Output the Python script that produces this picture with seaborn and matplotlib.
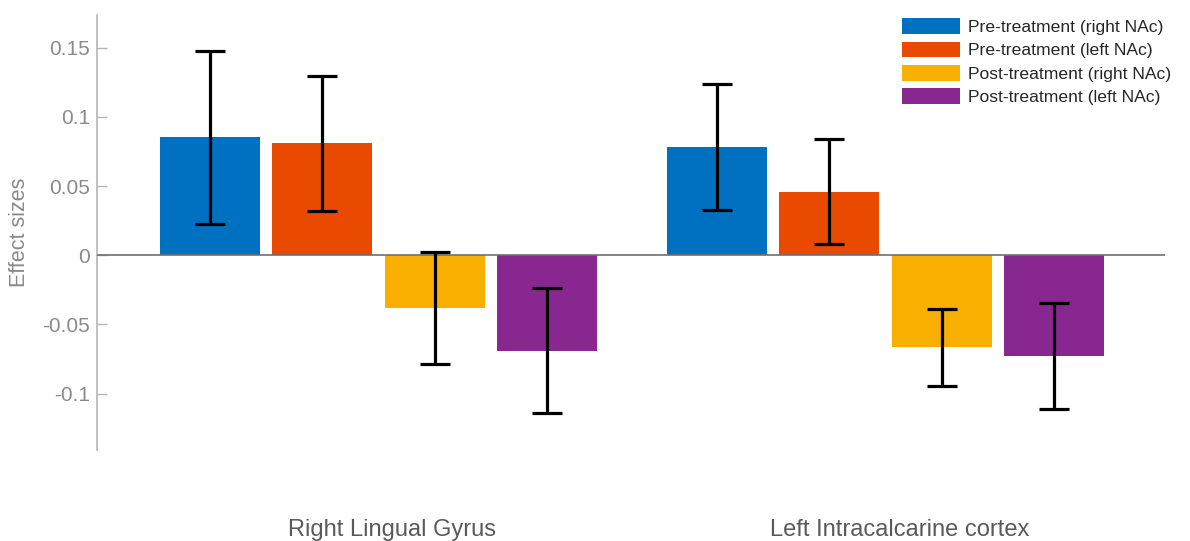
import matplotlib
matplotlib.use("Agg")
import matplotlib.pyplot as plt
from matplotlib.transforms import ScaledTranslation
import pandas as pd
import seaborn as sns

regions = ["Right Lingual Gyrus", "Left Intracalcarine cortex"]
conditions = ["Pre-treatment (right NAc)", "Pre-treatment (left NAc)",
              "Post-treatment (right NAc)", "Post-treatment (left NAc)"]

# effect sizes per condition, one value per region
pre_right = [0.0853, 0.0780]
pre_left = [0.0809, 0.0460]
post_right = [-0.0383, -0.0665]
post_left = [-0.0689, -0.0728]

# error bar half widths
pre_right_err = [0.0624, 0.0455]
pre_left_err = [0.0489, 0.0381]
post_right_err = [0.0406, 0.0276]
post_left_err = [0.0451, 0.0384]

yticks = [-0.1, -0.05, 0, 0.05, 0.1, 0.15]
yticklabels = ["-0.1", "-0.05", "0", "0.05", "0.1", "0.15"]

colors = ["#0071C1", "#E94A00", "#F8AF00", "#882790"]

values = [pre_right, pre_left, post_right, post_left]
errors = [pre_right_err, pre_left_err, post_right_err, post_left_err]

rows = []
for cond, vals in zip(conditions, values):
    for reg, v in zip(regions, vals):
        rows.append({"Region": reg, "Condition": cond, "Effect": v})
df = pd.DataFrame(rows)

sns.set_style("white")
plt.rcParams["font.family"] = ["Liberation Sans", "DejaVu Sans"]

fig = plt.figure(figsize=(11.9, 5.41), dpi=100)
ax = fig.add_axes([97 / 1190, 91 / 541, 1068 / 1190, 435 / 541])

sns.barplot(data=df, x="Region", y="Effect", hue="Condition", order=regions,
            hue_order=conditions, palette=colors, errorbar=None,
            width=0.886, gap=0.11, saturation=1, linewidth=0, ax=ax)

# error bars at the bar centres seaborn picked
for container, errs in zip(ax.containers, errors):
    for bar, e in zip(container, errs):
        xc = bar.get_x() + bar.get_width() / 2
        yv = bar.get_y() + bar.get_height()
        ax.errorbar(xc, yv, yerr=e, color="black", lw=2.3, capsize=10.5,
                    capthick=2.3, zorder=5)

ax.axhline(0, color="#707070", lw=1.2, zorder=4)

ax.set_xlim(-0.555, 1.551)
ax.set_ylim(-0.1407, 0.1736)
ax.set_yticks(yticks)
ax.set_yticklabels(yticklabels)

for side in ["top", "right", "bottom"]:
    ax.spines[side].set_visible(False)
ax.spines["left"].set_color("#b5b5b5")
ax.spines["left"].set_linewidth(1.2)

ax.tick_params(axis="y", direction="in", length=7, width=1, color="#b5b5b5",
               labelcolor="#8a8a8a", labelsize=15, pad=5, left=True)
ax.tick_params(axis="x", length=0, pad=50, labelsize=17, labelcolor="#5a5a5a")
# category labels sit a little right of the group centres
shift = ScaledTranslation(14 / 100, 0, fig.dpi_scale_trans)
for lbl in ax.get_xticklabels():
    lbl.set_transform(lbl.get_transform() + shift)

ax.set_xlabel("")
ax.set_ylabel("Effect sizes", fontsize=15.5, color="#8a8a8a")
ax.yaxis.set_label_coords(-0.063, 0.5)

handles, labels = ax.get_legend_handles_labels()
ax.legend(handles, labels, loc="upper left", bbox_to_anchor=(890 / 1190, 1 - 6 / 541),
          bbox_transform=fig.transFigure, frameon=False, fontsize=12.6,
          handlelength=3.3, handleheight=1.0, handletextpad=0.45,
          labelspacing=0.37, borderpad=0.2)

fig.savefig("out.png", dpi=100)
